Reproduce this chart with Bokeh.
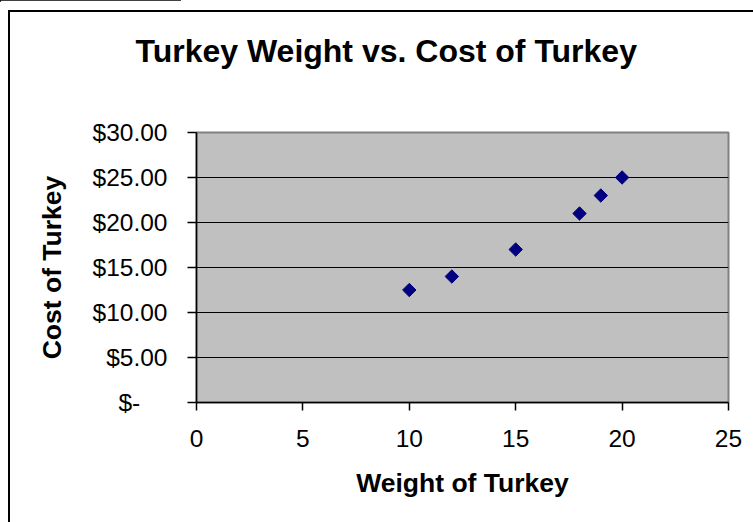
import math
from bokeh.plotting import figure
from bokeh.models import (Range1d, FixedTicker, CustomJSTickFormatter,
                          InlineStyleSheet)
from bokeh.embed import file_html
from bokeh.resources import INLINE

# Turkey weights (lb) and what each one cost
weights = [10, 12, 15, 18, 19, 20]
costs = [12.50, 14.00, 17.00, 21.00, 23.00, 25.00]

x_ticks = [0, 5, 10, 15, 20, 25]
y_ticks = [0, 5, 10, 15, 20, 25, 30]

title_text = "Turkey Weight vs. Cost of Turkey"
x_label = "Weight of Turkey"
y_label = "Cost of Turkey"

FONT = "Liberation Sans"

# chart border (top and left edges) and the short rule above it
frame_css = InlineStyleSheet(css="""
:host::before {
  content: ""; position: absolute; left: 0px; top: 0px;
  width: 181px; height: 2px; background: black; pointer-events: none;
}
:host::after {
  content: ""; position: absolute; left: 8px; top: 10px;
  width: 743px; height: 510px; border-top: 2px solid black;
  border-left: 2px solid black; pointer-events: none;
}
""")

p = figure(width=753, height=522, output_backend="svg", toolbar_location=None,
           x_range=Range1d(0, 25), y_range=Range1d(0, 30),
           min_border_left=196, min_border_right=25,
           min_border_top=132, min_border_bottom=120,
           stylesheets=[frame_css])

# a blank second line lifts the title well clear of the plot area
p.title.text = title_text + "\n\u00a0"
p.title.text_font = FONT
p.title.text_font_size = "32px"
p.title.text_font_style = "bold"
p.title.text_color = "black"
p.title.align = "left"
p.title.offset = -61
p.title.vertical_align = "top"
p.title.standoff = 52

p.background_fill_color = "#C0C0C0"
p.border_fill_color = "white"
p.outline_line_color = "#808080"
p.outline_line_width = 2

# horizontal grid only
p.xgrid.visible = False
p.ygrid.ticker = FixedTicker(ticks=y_ticks)
p.ygrid.grid_line_color = "black"
p.ygrid.grid_line_width = 1.2

for ax in (p.below[0], p.left[0]):
    ax.axis_line_color = "black"
    ax.axis_line_width = 1.5
    ax.major_tick_line_color = "black"
    ax.major_tick_line_width = 1.5
    ax.major_tick_in = 0
    ax.minor_tick_line_color = None
    ax.major_label_text_font = FONT
    ax.major_label_text_font_size = "24.5px"
    ax.major_label_text_color = "black"
    ax.axis_label_text_font = FONT
    ax.axis_label_text_font_size = "26.5px"
    ax.axis_label_text_font_style = "bold"
    ax.axis_label_text_color = "black"

xax = p.below[0]
xax.ticker = FixedTicker(ticks=x_ticks)
xax.major_tick_out = 8
xax.major_label_standoff = 19
xax.axis_label = x_label
xax.axis_label_standoff = 18

yax = p.left[0]
yax.ticker = FixedTicker(ticks=y_ticks)
yax.major_tick_out = 9
yax.major_label_standoff = 20
yax.formatter = CustomJSTickFormatter(code="""
    return tick == 0 ? "$-\\u00a0\\u00a0\\u00a0\\u00a0" : "$" + tick.toFixed(2);
""")
yax.axis_label = y_label
yax.axis_label_standoff = 23

p.scatter(weights, costs, marker="square", size=9.5, angle=math.pi / 4,
          fill_color="#000080", line_color="#000080")

open("out.html", "w").write(file_html(p, INLINE))
